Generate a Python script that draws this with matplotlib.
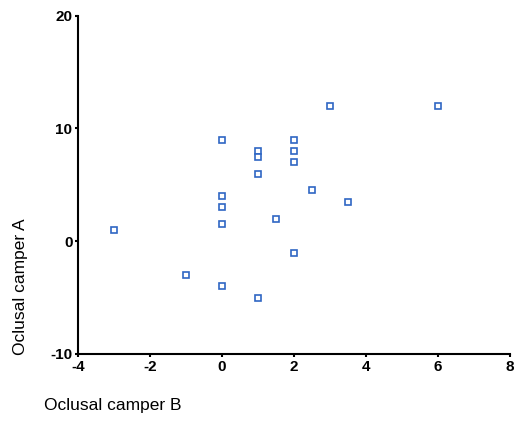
import matplotlib
matplotlib.use("Agg")
import matplotlib.pyplot as plt

# Oclusal camper values
camper_b = [-3, -1, 0, 0, 0, 0, 0, 1, 1, 1, 1, 1.5, 2, 2, 2, 2, 2.5, 3, 3.5, 6]
camper_a = [1, -3, 9, 4, 3, 1.5, -4, 8, 7.5, 6, -5, 2, 9, 8, 7, -1, 4.5, 12, 3.5, 12]

x_ticks = [-4, -2, 0, 2, 4, 6, 8]
y_ticks = [-10, 0, 10, 20]

plt.rcParams["font.family"] = ["Liberation Sans", "DejaVu Sans"]
plt.rcParams["axes.unicode_minus"] = False

fig = plt.figure(figsize=(5.18, 4.28), dpi=100)
ax = fig.add_axes([0.1506, 0.1729, 0.8340, 0.7904])

ax.plot(camper_b, camper_a, linestyle="none", marker="s", markersize=4.2,
        markerfacecolor="white", markeredgecolor="#2f66c4", markeredgewidth=1.2)

ax.set_xlim(-4, 8)
ax.set_ylim(-10, 20)
ax.set_xticks(x_ticks)
ax.set_yticks(y_ticks)
ax.tick_params(direction="out", length=2, width=1.5, labelsize=11, pad=2)
for lab in ax.get_xticklabels() + ax.get_yticklabels():
    lab.set_fontweight("bold")

for side in ("top", "right"):
    ax.spines[side].set_visible(False)
for side in ("left", "bottom"):
    ax.spines[side].set_linewidth(1.5)

fig.text(0.085, 0.035, "Oclusal camper B", fontsize=12.5, ha="left", va="bottom")
fig.text(0.04, 0.17, "Oclusal camper A", fontsize=12.5, rotation=90,
         ha="center", va="bottom")

fig.savefig("out.png", dpi=100)
